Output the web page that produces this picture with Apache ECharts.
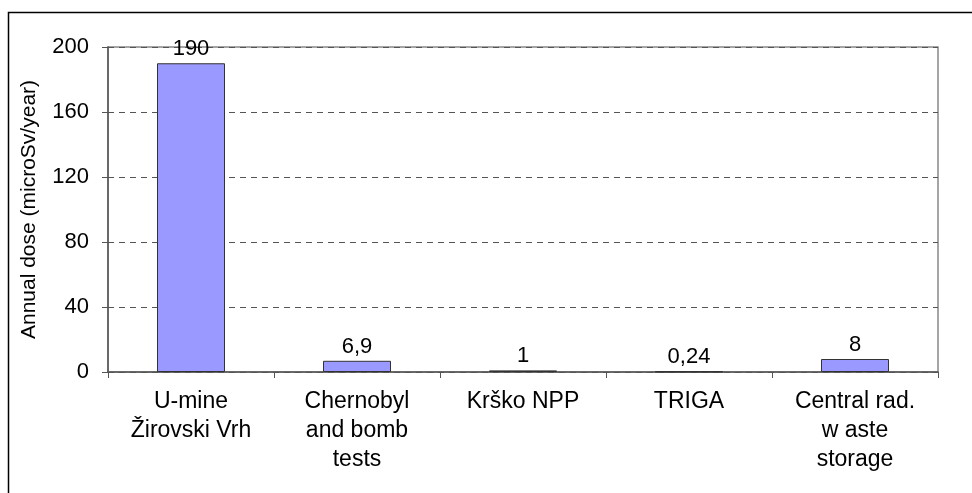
<!DOCTYPE html>
<html>
<head>
<meta charset="utf-8">
<script src="https://cdn.jsdelivr.net/npm/echarts@6/dist/echarts.min.js"></script>
<style>
html, body { margin: 0; padding: 0; background: #fff; }
#main { width: 972px; height: 493px; }
</style>
</head>
<body>
<div id="main"></div>
<script>
var categories = ['U-mine\nŽirovski Vrh', 'Chernobyl\nand bomb\ntests', 'Krško NPP', 'TRIGA', 'Central rad.\nw aste\nstorage'];
var doses = [190, 6.9, 1, 0.24, 8];
var doseLabels = ['190', '6,9', '1', '0,24', '8'];

var myChart = echarts.init(document.getElementById('main'));
var font = 'Liberation Sans, Arial, sans-serif';

var option = {
    animation: false,
    textStyle: { fontFamily: font },
    graphic: [{
        type: 'rect',
        shape: { x: 8.5, y: 12.5, width: 990, height: 500 },
        style: { fill: 'none', stroke: '#000', lineWidth: 1.5 },
        silent: true
    }],
    grid: {
        left: 108, right: 34, top: 47, bottom: 121,
        show: true, borderColor: '#888', borderWidth: 1.5, backgroundColor: 'transparent'
    },
    xAxis: {
        type: 'category',
        data: categories,
        axisLine: { lineStyle: { color: '#555', width: 1.5 } },
        axisTick: { show: true, length: 6, lineStyle: { color: '#555' } },
        axisLabel: { color: '#000', fontSize: 23, lineHeight: 29, margin: 15, interval: 0, fontFamily: font }
    },
    yAxis: {
        type: 'value',
        min: 0, max: 200, interval: 40,
        name: 'Annual dose (microSv/year)',
        nameLocation: 'middle',
        nameGap: 68,
        nameTextStyle: { color: '#000', fontSize: 21, fontFamily: font },
        axisLine: { show: true, lineStyle: { color: '#555', width: 1.5 } },
        axisTick: { show: true, length: 6, lineStyle: { color: '#555' } },
        axisLabel: { color: '#000', fontSize: 22, margin: 19, fontFamily: font },
        splitLine: { lineStyle: { color: '#555', type: [6, 5], width: 1 } }
    },
    series: [{
        type: 'bar',
        data: doses,
        barWidth: 68,
        itemStyle: { color: '#9999FF', borderColor: '#333', borderWidth: 1 },
        label: {
            show: true, position: 'top', distance: 3,
            color: '#000', fontSize: 22, fontFamily: font,
            formatter: function (p) { return doseLabels[p.dataIndex]; }
        }
    }]
};

myChart.setOption(option);
</script>
</body>
</html>
